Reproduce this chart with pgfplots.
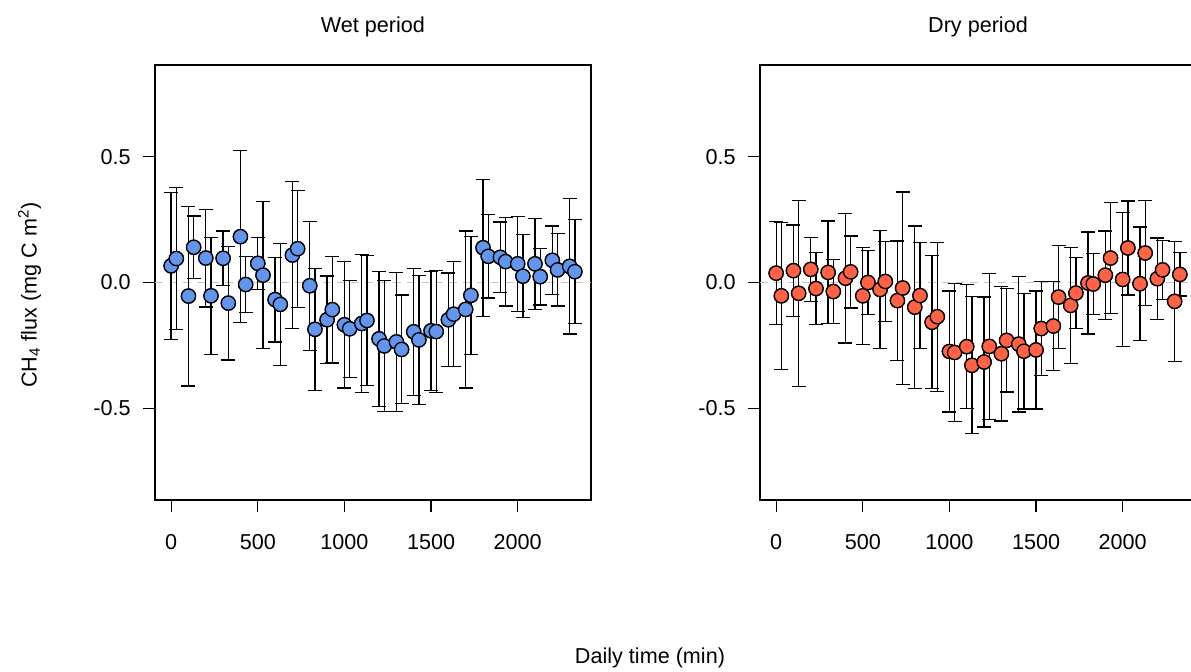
\documentclass[border=0pt]{standalone}
\usepackage{fontspec}
\setmainfont{Liberation Sans}
\usepackage{pgfplots}
\usepackage{pgfplotstable}
\pgfplotsset{compat=1.18}

\definecolor{wetblue}{RGB}{100,149,237}
\definecolor{dryred}{RGB}{255,99,71}

% daily time (hhmm), mean CH4 flux, half-length of the bar
\pgfplotstableread{
t y e
0 0.066 0.292
30 0.095 0.282
100 -0.054 0.357
130 0.140 0.124
200 0.097 0.194
230 -0.053 0.233
300 0.096 0.108
330 -0.082 0.226
400 0.182 0.342
430 -0.008 0.112
500 0.076 0.104
530 0.029 0.292
600 -0.068 0.168
630 -0.087 0.242
700 0.109 0.293
730 0.134 0.232
800 -0.013 0.256
830 -0.186 0.242
900 -0.148 0.174
930 -0.108 0.212
1000 -0.168 0.251
1030 -0.184 0.193
1100 -0.163 0.273
1130 -0.151 0.258
1200 -0.224 0.268
1230 -0.252 0.260
1300 -0.236 0.276
1330 -0.266 0.216
1400 -0.196 0.252
1430 -0.228 0.256
1500 -0.192 0.236
1530 -0.195 0.243
1600 -0.148 0.186
1630 -0.126 0.208
1700 -0.107 0.312
1730 -0.051 0.235
1800 0.138 0.272
1830 0.104 0.166
1900 0.100 0.140
1930 0.083 0.176
2000 0.074 0.189
2030 0.025 0.165
2100 0.074 0.181
2130 0.023 0.112
2200 0.088 0.136
2230 0.050 0.144
2300 0.064 0.269
2330 0.043 0.206
}\wetdata

\pgfplotstableread{
t y e
0 0.037 0.205
30 -0.053 0.292
100 0.047 0.181
130 -0.043 0.370
200 0.052 0.127
230 -0.024 0.144
300 0.040 0.204
330 -0.036 0.127
400 0.017 0.258
430 0.042 0.143
500 -0.053 0.193
530 0.000 0.128
600 -0.028 0.234
630 0.004 0.160
700 -0.072 0.237
730 -0.022 0.382
800 -0.098 0.322
830 -0.052 0.211
900 -0.158 0.264
930 -0.136 0.296
1000 -0.274 0.240
1030 -0.278 0.273
1100 -0.255 0.246
1130 -0.329 0.272
1200 -0.316 0.258
1230 -0.254 0.291
1300 -0.283 0.267
1330 -0.230 0.205
1400 -0.245 0.270
1430 -0.273 0.229
1500 -0.268 0.234
1530 -0.183 0.187
1600 -0.173 0.177
1630 -0.058 0.205
1700 -0.091 0.230
1730 -0.042 0.142
1800 -0.002 0.203
1830 -0.006 0.121
1900 0.029 0.176
1930 0.097 0.220
2000 0.012 0.265
2030 0.137 0.187
2100 -0.005 0.225
2130 0.117 0.208
2200 0.015 0.162
2230 0.050 0.117
2300 -0.075 0.239
2330 0.032 0.086
}\drydata

\pgfplotsset{
    fluxpanel/.style={
        scale only axis,
        width=218pt, height=217.5pt,
        anchor=south west,
        xmin=-93.2, xmax=2423.2,
        ymin=-0.864, ymax=0.864,
        axis line style={black, line width=0.7pt},
        tick align=outside,
        xtick pos=bottom, ytick pos=left,
        major tick length=6pt,
        tick style={black, line width=0.6pt},
        xtick={0,500,1000,1500,2000},
        xticklabels={0,500,1000,1500,2000},
        ytick={-0.5,0,0.5},
        yticklabels={-0.5,0.0,0.5},
        ticklabel style={font=\fontsize{10.8}{13}\selectfont},
        xticklabel style={anchor=north, inner sep=0pt, yshift=-11pt},
        yticklabel style={anchor=east, inner sep=0pt, xshift=-6pt},
        title style={font=\fontsize{10.8}{13}\selectfont, anchor=base,
            at={(0.5,1)}, yshift=10.4pt},
        clip=false,
    },
    fluxmarks/.style={
        only marks, mark=*, mark size=3.55pt,
        mark options={draw=black, fill=#1, line width=0.65pt},
    },
    % same marks with I-shaped bars; the marks are drawn once more on top
    errbars/.style={
        fluxmarks=#1, forget plot,
        error bars/.cd,
            y dir=both, y explicit,
            error mark=|,
            error bar style={draw=black, line width=0.65pt},
            error mark options={draw=black, line width=0.65pt, mark size=3.5pt},
    },
    zeroline/.style={gray!45, line width=0.6pt, dash pattern=on 4pt off 3pt},
}

\begin{document}
\begin{tikzpicture}
\useasboundingbox (0,0) rectangle (595.5pt,336pt);
\clip (0,0) rectangle (595.5pt,336pt);

\begin{axis}[fluxpanel, at={(77.5pt,86pt)}, title={Wet period}]
    \addplot[zeroline] coordinates {(-93.2,0) (2423.2,0)};
    \addplot[errbars=wetblue] table[x=t, y=y, y error=e] {\wetdata};
    \addplot[fluxmarks=wetblue] table[x=t, y=y] {\wetdata};
\end{axis}

\begin{axis}[fluxpanel, at={(380pt,86pt)}, title={Dry period}]
    \addplot[zeroline] coordinates {(-93.2,0) (2423.2,0)};
    \addplot[errbars=dryred] table[x=t, y=y, y error=e] {\drydata};
    \addplot[fluxmarks=dryred] table[x=t, y=y] {\drydata};
\end{axis}

\node[rotate=90, anchor=base, font=\fontsize{10.8}{13}\selectfont]
    at (18.3pt,188.5pt) {CH\textsubscript{4} flux (mg C m\textsuperscript{2})};
\node[anchor=base, font=\fontsize{10.8}{13}\selectfont]
    at (325pt,4pt) {Daily time (min)};
\end{tikzpicture}
\end{document}
